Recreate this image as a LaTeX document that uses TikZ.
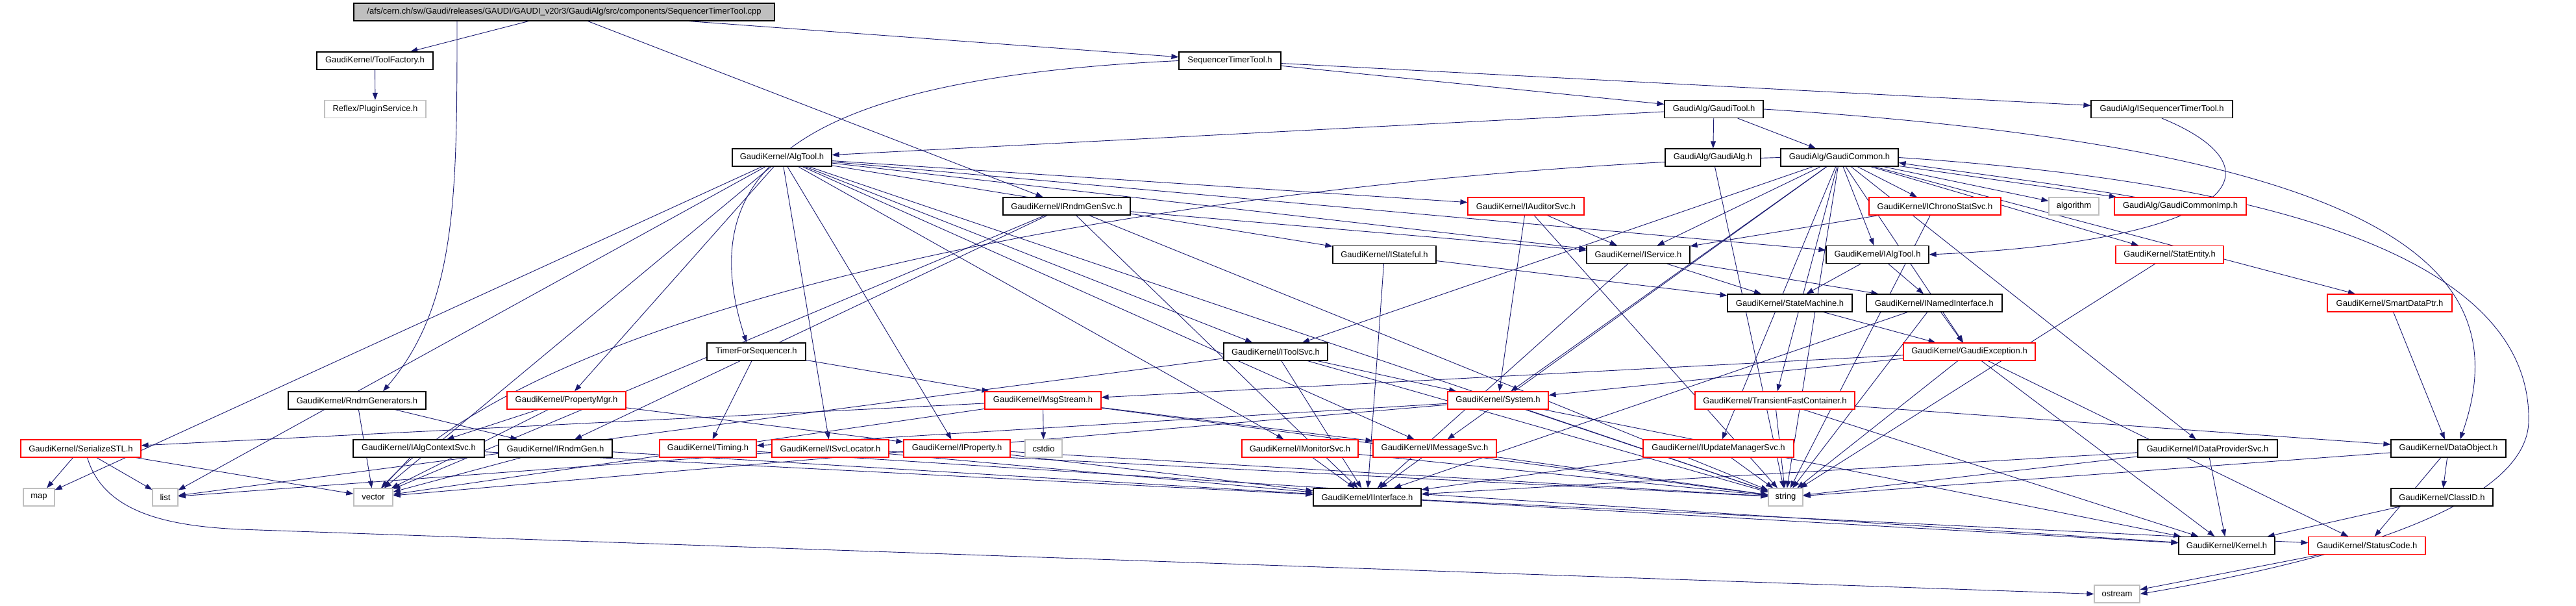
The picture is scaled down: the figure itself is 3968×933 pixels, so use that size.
\documentclass[tikz,border=0pt]{standalone}
\usepackage{fontspec}
\setmainfont{Liberation Sans}
\usetikzlibrary{arrows.meta,backgrounds}
\definecolor{edgec}{HTML}{191970}
\definecolor{grayb}{HTML}{BFBFBF}
\tikzset{
 nbox/.style={draw=black, line width=1.2pt, fill=white, inner sep=0pt, minimum height=27pt, font=\fontsize{13}{15}\selectfont, text=black},
 redbox/.style={nbox, draw=red},
 graybox/.style={nbox, draw=grayb},
 rootbox/.style={nbox, fill=grayb},
 edge/.style={draw=edgec, line width=0.9pt, -{Triangle[length=11pt,width=8pt]}},
}
\begin{document}
\begin{tikzpicture}[x=1pt,y=-1pt]
\useasboundingbox (0,0) rectangle (3968,933);
% row 1
\node[rootbox,minimum width=648pt] (root) at (869,18.5) {/afs/cern.ch/sw/Gaudi/releases/GAUDI/GAUDI\_v20r3/GaudiAlg/src/components/SequencerTimerTool.cpp};
% row 2
\node[nbox,minimum width=179pt] (tf) at (577.5,93.5) {GaudiKernel/ToolFactory.h};
\node[nbox,minimum width=157pt] (stth) at (1894.5,93.5) {SequencerTimerTool.h};
% row 3
\node[graybox,minimum width=156pt] (plug) at (578,168) {Reflex/PluginService.h};
\node[nbox,minimum width=152pt] (gtool) at (2640,168) {GaudiAlg/GaudiTool.h};
\node[nbox,minimum width=218pt] (istt) at (3330,168) {GaudiAlg/ISequencerTimerTool.h};
% row 4
\node[nbox,minimum width=153pt] (algtool) at (1204.5,242.5) {GaudiKernel/AlgTool.h};
\node[nbox,minimum width=147pt] (galg) at (2638.5,242.5) {GaudiAlg/GaudiAlg.h};
\node[nbox,minimum width=181pt] (gcommon) at (2833.5,242.5) {GaudiAlg/GaudiCommon.h};
% row 5
\node[nbox,minimum width=196pt] (irgs) at (1643,317.5) {GaudiKernel/IRndmGenSvc.h};
\node[redbox,minimum width=179pt] (iaud) at (2350.5,317.5) {GaudiKernel/IAuditorSvc.h};
\node[redbox,minimum width=203pt] (ichrono) at (2980.5,317.5) {GaudiKernel/IChronoStatSvc.h};
\node[graybox,minimum width=77pt] (algo) at (3194.5,317.5) {algorithm};
\node[redbox,minimum width=203pt] (gcimp) at (3358.5,317.5) {GaudiAlg/GaudiCommonImp.h};
% row 6
\node[nbox,minimum width=159pt] (istate) at (2132.5,392) {GaudiKernel/IStateful.h};
\node[nbox,minimum width=159pt] (isvc) at (2523.5,392) {GaudiKernel/IService.h};
\node[nbox,minimum width=158pt] (ialgtool) at (2892,392) {GaudiKernel/IAlgTool.h};
\node[redbox,minimum width=166pt] (statent) at (3342,392) {GaudiKernel/StatEntity.h};
% row 7
\node[nbox,minimum width=192pt] (statem) at (2757,466.5) {GaudiKernel/StateMachine.h};
\node[nbox,minimum width=209pt] (inamed) at (2979.5,466.5) {GaudiKernel/INamedInterface.h};
\node[redbox,minimum width=192pt] (sdp) at (3681,466.5) {GaudiKernel/SmartDataPtr.h};
% row 8
\node[nbox,minimum width=152pt] (tfs) at (1165,541.5) {TimerForSequencer.h};
\node[nbox,minimum width=160pt] (itoolsvc) at (1965,541.5) {GaudiKernel/IToolSvc.h};
\node[redbox,minimum width=203pt] (gexc) at (3033.5,541.5) {GaudiKernel/GaudiException.h};
% row 9
\node[nbox,minimum width=212pt] (rgen) at (550,616.5) {GaudiKernel/RndmGenerators.h};
\node[redbox,minimum width=183pt] (pmgr) at (872.5,616.5) {GaudiKernel/PropertyMgr.h};
\node[redbox,minimum width=179pt] (msg) at (1606.5,616.5) {GaudiKernel/MsgStream.h};
\node[redbox,minimum width=155pt] (sys) at (2307.5,616.5) {GaudiKernel/System.h};
\node[redbox,minimum width=246pt] (tfc) at (2734,616.5) {GaudiKernel/TransientFastContainer.h};
% row 10
\node[redbox,minimum width=185pt] (ser) at (124.5,690.5) {GaudiKernel/SerializeSTL.h};
\node[nbox,minimum width=202pt] (iacs) at (645,690.5) {GaudiKernel/IAlgContextSvc.h};
\node[nbox,minimum width=175pt] (irg) at (855.5,690.5) {GaudiKernel/IRndmGen.h};
\node[redbox,minimum width=149pt] (timing) at (1090.5,690.5) {GaudiKernel/Timing.h};
\node[redbox,minimum width=180pt] (isl) at (1279,690.5) {GaudiKernel/ISvcLocator.h};
\node[redbox,minimum width=164pt] (iprop) at (1474,690.5) {GaudiKernel/IProperty.h};
\node[graybox,minimum width=57pt] (cstdio) at (1607.5,690.5) {cstdio};
\node[redbox,minimum width=179pt] (imon) at (2002.5,690.5) {GaudiKernel/IMonitorSvc.h};
\node[redbox,minimum width=190pt] (imsg) at (2210,690.5) {GaudiKernel/IMessageSvc.h};
\node[redbox,minimum width=232pt] (iums) at (2647,690.5) {GaudiKernel/IUpdateManagerSvc.h};
\node[nbox,minimum width=215pt] (idps) at (3400.5,690.5) {GaudiKernel/IDataProviderSvc.h};
\node[nbox,minimum width=177pt] (dobj) at (3771.5,690.5) {GaudiKernel/DataObject.h};
% row 11
\node[graybox,minimum width=48pt] (map) at (60,765.5) {map};
\node[graybox,minimum width=39pt] (list) at (254.5,765.5) {list};
\node[graybox,minimum width=60pt] (vec) at (575,765.5) {vector};
\node[nbox,minimum width=166pt] (iint) at (2106,765.5) {GaudiKernel/IInterface.h};
\node[graybox,minimum width=53pt] (str) at (2750.5,765.5) {string};
\node[nbox,minimum width=157pt] (clid) at (3761.5,765.5) {GaudiKernel/ClassID.h};
% row 12
\node[nbox,minimum width=148pt] (kern) at (3430,840) {GaudiKernel/Kernel.h};
\node[redbox,minimum width=180pt] (sc) at (3646,840) {GaudiKernel/StatusCode.h};
% row 13
\node[graybox,minimum width=70pt] (ostr) at (3261,914.5) {ostream};

\begin{pgfonlayer}{background}
\foreach \a/\b in {root/tf, root/stth, root/irgs, tf/plug, stth/gtool, stth/istt,
 gtool/algtool, gtool/galg, gtool/gcommon, gcommon/gcimp,
 algtool/iaud, algtool/istate, algtool/isvc, algtool/ialgtool, algtool/itoolsvc, algtool/pmgr,
 algtool/isl, algtool/iprop, algtool/imsg, algtool/imon, algtool/list, algtool/map, algtool/vec, algtool/str,
 galg/str,
 gcommon/ichrono, gcommon/algo, gcommon/statent, gcommon/sdp, gcommon/ialgtool, gcommon/gexc,
 gcommon/itoolsvc, gcommon/sys, gcommon/tfc, gcommon/iums, gcommon/imsg, gcommon/idps, gcommon/str,
 gcommon/isvc,
 irgs/isvc, irgs/irg, irgs/vec, irgs/str, irgs/iint,
 iaud/isvc, iaud/sys, iaud/str, ichrono/isvc, ichrono/str, statent/str,
 istate/statem, istate/iint, isvc/statem, isvc/inamed, isvc/iint,
 ialgtool/statem, ialgtool/inamed, statem/gexc,
 inamed/gexc, inamed/iint, inamed/str, sdp/dobj,
 tfs/msg, tfs/timing,
 itoolsvc/sys, itoolsvc/str, itoolsvc/iint, itoolsvc/list,
 gexc/msg, gexc/sys, gexc/str, gexc/sc, gexc/kern,
 rgen/irg, rgen/vec, pmgr/iprop, pmgr/vec, pmgr/iacs,
 msg/cstdio, msg/imsg, msg/str, msg/vec, msg/ser,
 sys/timing, sys/str, sys/kern, sys/vec,
 tfc/dobj, tfc/str, tfc/kern,
 ser/map, ser/list, ser/vec,
 iacs/vec, iacs/iint, irg/vec, irg/iint, timing/kern,
 isl/list, isl/str, isl/iint, iprop/str, iprop/iint,
 imon/iint, imon/str, imsg/iint, imsg/str, iums/iint, iums/str,
 idps/kern, idps/iint, idps/str,
 dobj/clid, dobj/sc, dobj/str, clid/kern,
 iint/kern, iint/sc, sc/ostr}
 \draw[edge] (\a) -- (\b);
% curved connectors
\draw[edge] ([xshift=-165pt]root.south) .. controls (704,300) and (704,470) .. ([xshift=40pt]rgen.north);
\draw[edge] (stth.west) .. controls (1250,120) and (1060,250) .. ([xshift=-15pt]tfs.north);
\draw[edge] (gtool.east) .. controls (3700,230) and (3880,420) .. ([xshift=18pt]dobj.north);
\draw[edge] (istt.south) .. controls (3520,260) and (3450,370) .. (ialgtool.east);
\draw[edge] ([xshift=-70pt]gcimp.north) .. controls (3150,280) and (3000,262) .. ([yshift=-8pt]gcommon.east);
\draw[edge] (gcommon.east) .. controls (3650,290) and (3900,450) .. (3895,650) .. controls (3890,800) and (3500,880) .. (ostr.east);
\draw[edge] ([xshift=10pt]ser.south) .. controls (160,790) and (260,810) .. (370,815) -- (ostr.west);
\draw[edge] (gcommon.west) .. controls (2000,262) and (900,420) .. ([xshift=12pt]vec.north);
\end{pgfonlayer}
\end{tikzpicture}
\end{document}
